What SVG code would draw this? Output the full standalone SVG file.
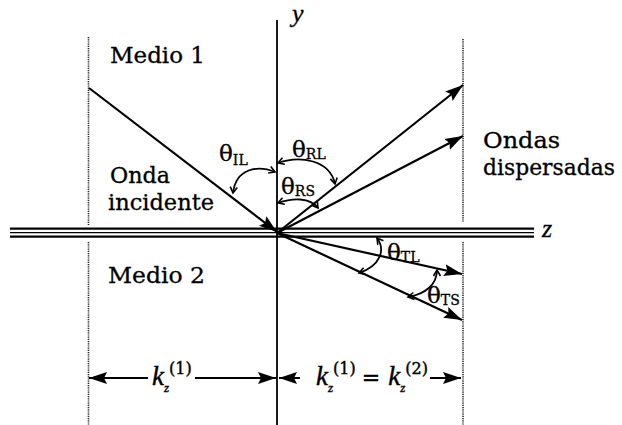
<svg xmlns="http://www.w3.org/2000/svg" width="622" height="425" viewBox="0 0 622 425">
<style>
.t{font-family:"DejaVu Serif","Liberation Serif",serif;font-size:22px;fill:#000;stroke:#000;stroke-width:0.3}
.th{font-family:"DejaVu Serif","Liberation Serif",serif;font-size:23px;fill:#000;stroke:#000;stroke-width:0.3}
.sb{font-size:14px}
.it{font-family:"Liberation Serif","DejaVu Serif",serif;font-style:italic;fill:#000;stroke:#000;stroke-width:0.3}
.k{font-family:"Liberation Serif","DejaVu Serif",serif;font-size:27px;fill:#000;stroke:#000;stroke-width:0.4}
.ki{font-style:italic}
.zs{font-style:italic;font-size:13px}
.sp{font-family:"DejaVu Serif","Liberation Serif",serif;font-style:normal;font-size:16px}
.eq{font-family:"DejaVu Serif","Liberation Serif",serif;font-style:normal;font-size:22px}
.y{font-size:26px}
.ln{stroke:#000;fill:none}
.dot{stroke:#222;stroke-width:1.6;stroke-dasharray:1.2 1;fill:none}
.ray{stroke:#000;stroke-width:2.2;fill:none;marker-end:url(#ah)}
.arc{stroke:#000;stroke-width:1.8;fill:none;marker-start:url(#oa);marker-end:url(#oa)}
.dim{stroke:#000;stroke-width:2;fill:none;marker-end:url(#ah)}
</style>
<defs>
<marker id="ah" markerUnits="userSpaceOnUse" markerWidth="19" markerHeight="13" refX="18" refY="6.5" orient="auto" viewBox="0 0 19 13">
<path d="M0,0.5 L18,6.5 L0,12.5 L3,6.5 z" fill="#000"/>
</marker>
<marker id="oa" markerUnits="userSpaceOnUse" markerWidth="10" markerHeight="10" refX="7" refY="4" orient="auto-start-reverse" viewBox="0 0 10 8">
<path d="M1,0.5 L7,4 L1,7.5" fill="none" stroke="#000" stroke-width="1.6"/>
</marker>
</defs>
<rect width="622" height="425" fill="#fff"/>

<g id="axes">
<line class="ln" x1="277" y1="20" x2="277" y2="425" stroke-width="1.8"/>
<line class="dot" x1="88.5" y1="37" x2="88.5" y2="225"/>
<line class="dot" x1="88.5" y1="242" x2="88.5" y2="425"/>
<line class="dot" x1="463" y1="39" x2="463" y2="222"/>
<line class="dot" x1="463" y1="242" x2="463" y2="425"/>
</g>

<g id="interface">
<line class="ln" x1="10" y1="228.7" x2="534" y2="228.7" stroke-width="2.2"/>
<line class="ln" x1="10" y1="232.6" x2="534" y2="232.6" stroke-width="1.3"/>
<line class="ln" x1="10" y1="236.6" x2="534" y2="236.6" stroke-width="2.4"/>
</g>

<g id="connectors">
<line class="ray" x1="89" y1="88" x2="277" y2="232"/>
<line class="ray" x1="277" y1="233" x2="463" y2="85"/>
<line class="ray" x1="277" y1="233" x2="463" y2="136"/>
<line class="ray" x1="277" y1="233" x2="462" y2="274"/>
<line class="ray" x1="277" y1="233" x2="462" y2="320"/>
</g>

<g id="angles">
<path class="arc" d="M275,172 C258,165 236,168 233,193"/>
<path class="arc" d="M278,163 C300,155 330,160 335,184"/>
<path class="arc" d="M278,203 C292,198 310,197 318,208"/>
<path class="arc" d="M377,238 C386,250 380,266 359,273"/>
<path class="arc" d="M437,270 C437,285 425,294 408,297"/>
</g>

<g id="angle-labels">
<text class="th" x="219" y="161">θ<tspan class="sb" dy="4">IL</tspan></text>
<text class="th" x="292" y="157">θ<tspan class="sb" dy="2">RL</tspan></text>
<text class="th" x="281" y="194">θ<tspan class="sb" dy="2">RS</tspan></text>
<text class="th" x="387" y="260">θ<tspan class="sb" dy="2">TL</tspan></text>
<text class="th" x="427" y="303">θ<tspan class="sb" dy="2">TS</tspan></text>
</g>

<g id="labels">
<text class="t" x="110" y="63" textLength="95" lengthAdjust="spacingAndGlyphs">Medio 1</text>
<text class="t" x="110" y="183" textLength="60" lengthAdjust="spacingAndGlyphs">Onda</text>
<text class="t" x="108" y="210" textLength="106" lengthAdjust="spacingAndGlyphs">incidente</text>
<text class="t" x="108" y="283" textLength="97" lengthAdjust="spacingAndGlyphs">Medio 2</text>
<text class="t" x="483" y="148" textLength="77" lengthAdjust="spacingAndGlyphs">Ondas</text>
<text class="t" x="483" y="175" textLength="132" lengthAdjust="spacingAndGlyphs">dispersadas</text>
<text class="it y" x="292" y="22">y</text>
<text class="it y" x="542" y="237">z</text>
</g>

<g id="dimensions">
<line class="dim" x1="148" y1="378" x2="89" y2="378"/>
<line class="dim" x1="195" y1="378" x2="276" y2="378"/>
<line class="dim" x1="300" y1="378" x2="279" y2="378"/>
<line class="dim" x1="430" y1="378" x2="461" y2="378"/>
<text class="k" x="152" y="385"><tspan class="ki">k</tspan><tspan class="zs" dx="0" dy="7">z</tspan><tspan class="sp" dx="0" dy="-18">(1)</tspan></text>
<text class="k" x="316" y="385"><tspan class="ki">k</tspan><tspan class="zs" dx="0" dy="7">z</tspan><tspan class="sp" dx="0" dy="-18">(1)</tspan><tspan class="eq" dx="6" dy="11">=</tspan><tspan class="ki" dx="8">k</tspan><tspan class="zs" dx="0" dy="7">z</tspan><tspan class="sp" dx="0" dy="-18">(2)</tspan></text>
</g>
</svg>
